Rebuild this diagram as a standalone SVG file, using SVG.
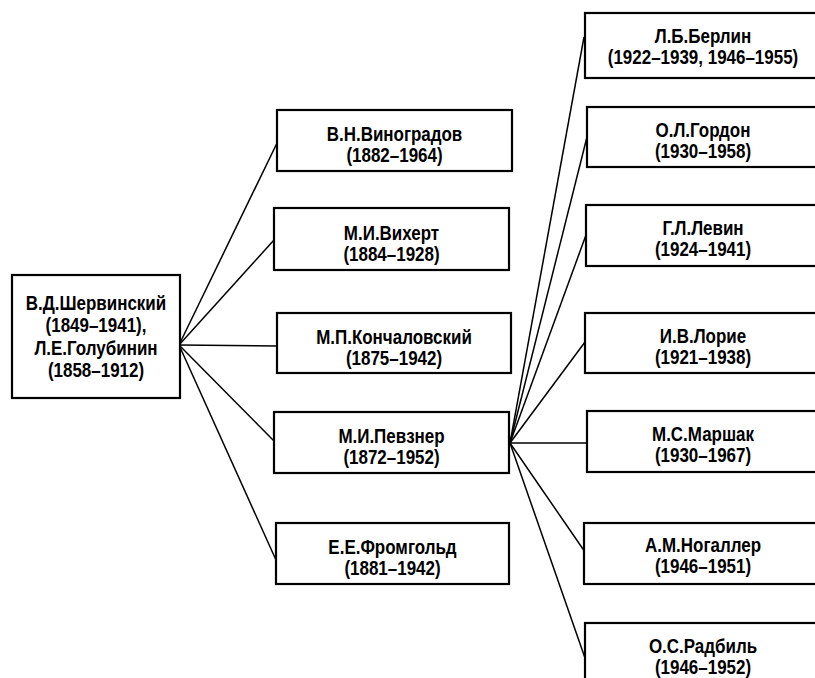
<svg xmlns="http://www.w3.org/2000/svg" width="815" height="678" viewBox="0 0 815 678">
<style>
.box{fill:#fff;stroke:#000;stroke-width:2.2}
.con line{stroke:#000;stroke-width:1.5;fill:none}
.lbl text{font-family:"Liberation Sans",Arial,sans-serif;font-weight:bold;font-size:19.5px;text-anchor:middle;fill:#000}
</style>
<rect width="815" height="678" fill="#fff"/>
<g id="connectors" class="con">
<line x1="179" y1="345" x2="278" y2="141"/>
<line x1="179" y1="345" x2="274" y2="240"/>
<line x1="179" y1="345" x2="277" y2="346"/>
<line x1="179" y1="345" x2="275" y2="442"/>
<line x1="179" y1="345" x2="276" y2="560"/>
<line x1="510" y1="443" x2="584" y2="37"/>
<line x1="510" y1="443" x2="588" y2="133"/>
<line x1="510" y1="443" x2="586" y2="235"/>
<line x1="510" y1="443" x2="585" y2="342"/>
<line x1="510" y1="443" x2="587" y2="443"/>
<line x1="510" y1="443" x2="585" y2="552"/>
<line x1="510" y1="443" x2="585" y2="658"/>
</g>
<g id="n-root"><rect class="box" x="12" y="275" width="168" height="123"/>
<g class="lbl" transform="translate(96 0) scale(0.87 1)"><text x="0" y="310">В.Д.Шервинский</text><text x="0" y="332.5">(1849–1941),</text><text x="0" y="355">Л.Е.Голубинин</text><text x="0" y="377.5">(1858–1912)</text></g></g>
<g id="n-vinogradov"><rect class="box" x="277" y="110" width="235" height="61"/>
<g class="lbl" transform="translate(394.5 0) scale(0.87 1)"><text x="0" y="141">В.Н.Виноградов</text><text x="0" y="162">(1882–1964)</text></g></g>
<g id="n-vihert"><rect class="box" x="274" y="208" width="235" height="62"/>
<g class="lbl" transform="translate(391.5 0) scale(0.87 1)"><text x="0" y="240">М.И.Вихерт</text><text x="0" y="261">(1884–1928)</text></g></g>
<g id="n-konchalovsky"><rect class="box" x="277" y="313" width="234" height="60"/>
<g class="lbl" transform="translate(394 0) scale(0.87 1)"><text x="0" y="344">М.П.Кончаловский</text><text x="0" y="365">(1875–1942)</text></g></g>
<g id="n-pevzner"><rect class="box" x="274" y="412" width="235" height="61"/>
<g class="lbl" transform="translate(391.5 0) scale(0.87 1)"><text x="0" y="443">М.И.Певзнер</text><text x="0" y="464">(1872–1952)</text></g></g>
<g id="n-fromgold"><rect class="box" x="276" y="523" width="233" height="61"/>
<g class="lbl" transform="translate(392.5 0) scale(0.87 1)"><text x="0" y="554">Е.Е.Фромгольд</text><text x="0" y="575">(1881–1942)</text></g></g>
<g id="n-berlin"><rect class="box" x="585" y="13" width="236" height="65"/>
<g class="lbl" transform="translate(703 0) scale(0.87 1)"><text x="0" y="43">Л.Б.Берлин</text><text x="0" y="64">(1922–1939, 1946–1955)</text></g></g>
<g id="n-gordon"><rect class="box" x="587" y="107" width="236" height="60"/>
<g class="lbl" transform="translate(703 0) scale(0.87 1)"><text x="0" y="137">О.Л.Гордон</text><text x="0" y="158">(1930–1958)</text></g></g>
<g id="n-levin"><rect class="box" x="586" y="205" width="236" height="61"/>
<g class="lbl" transform="translate(703 0) scale(0.87 1)"><text x="0" y="235">Г.Л.Левин</text><text x="0" y="256">(1924–1941)</text></g></g>
<g id="n-lorie"><rect class="box" x="585" y="313" width="236" height="60"/>
<g class="lbl" transform="translate(703 0) scale(0.87 1)"><text x="0" y="343">И.В.Лорие</text><text x="0" y="364">(1921–1938)</text></g></g>
<g id="n-marshak"><rect class="box" x="587" y="411" width="236" height="61"/>
<g class="lbl" transform="translate(703 0) scale(0.87 1)"><text x="0" y="441">М.С.Маршак</text><text x="0" y="462">(1930–1967)</text></g></g>
<g id="n-nogaller"><rect class="box" x="584" y="523" width="236" height="61"/>
<g class="lbl" transform="translate(703 0) scale(0.87 1)"><text x="0" y="552">А.М.Ногаллер</text><text x="0" y="573">(1946–1951)</text></g></g>
<g id="n-radbil"><rect class="box" x="585" y="623" width="236" height="65"/>
<g class="lbl" transform="translate(703 0) scale(0.87 1)"><text x="0" y="653">О.С.Радбиль</text><text x="0" y="674">(1946–1952)</text></g></g>
</svg>
